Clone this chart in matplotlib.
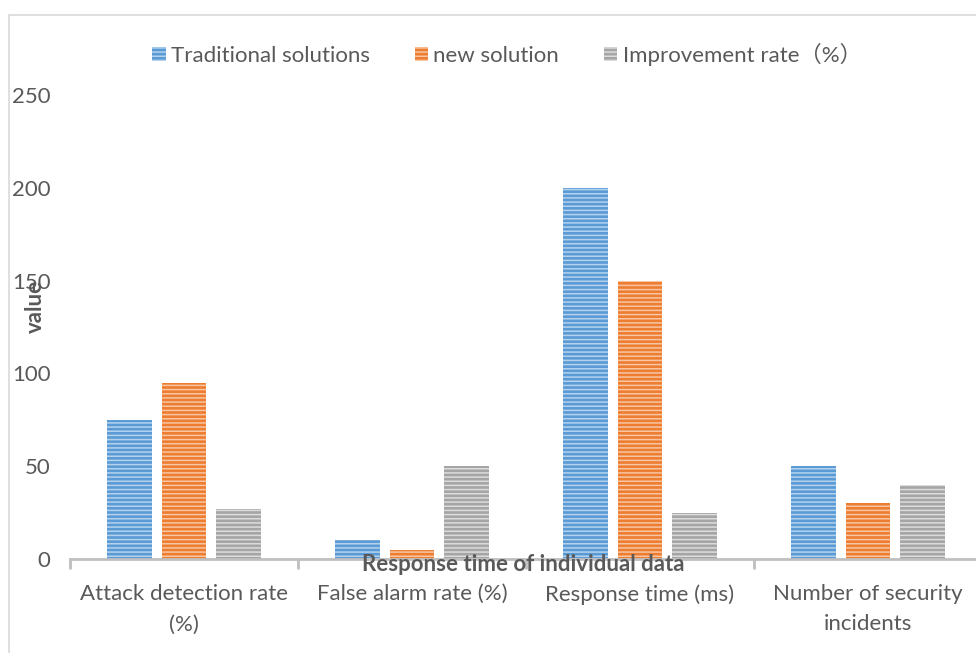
import matplotlib
matplotlib.use("Agg")
import matplotlib.pyplot as plt
import numpy as np
from matplotlib.patches import Rectangle

# datos
categorias = ["Attack detection rate\n(%)", "False alarm rate (%)",
              "Response time (ms)", "Number of security\nincidents"]
tradicional = [75, 10, 200, 50]
nueva = [95, 5, 150, 30]
mejora = [26.7, 50, 25, 40]
series = ["Traditional solutions", "new solution", "Improvement rate\uff08%\uff09"]

plt.rcParams['font.family'] = ['Lato', 'Noto Sans CJK SC', 'DejaVu Sans']
plt.rcParams['hatch.linewidth'] = 1.1

colores = ["#5B9BD5", "#ED7D31", "#A5A5A5"]
claros = ["#B4D2EE", "#F8C6A3", "#DCDCDC"]
gris_texto = "#595959"
tam = 16

fig = plt.figure(figsize=(9.76, 6.53), dpi=100)
# borde del area del grafico
fig.patches.append(Rectangle((8.5 / 976, -0.01), 1.0, 1 - 15.5 / 653 + 0.01,
                             transform=fig.transFigure, fill=False,
                             edgecolor="#D9D9D9", linewidth=1.2))

ax = fig.add_axes([70 / 976, 94 / 653, 912 / 976, 464 / 653])

x = np.arange(len(categorias))
ancho = 0.197
paso = 0.239
for k, (vals, nombre) in enumerate(zip([tradicional, nueva, mejora], series)):
    ax.bar(x + (k - 1) * paso, vals, width=ancho, color=colores[k],
           edgecolor=claros[k], linewidth=0, hatch="----", label=nombre)

ax.set_xlim(-0.5, len(categorias) - 0.5)
ax.set_ylim(0, 250)
ax.set_yticks([0, 50, 100, 150, 200, 250])
ax.set_xticks(x)
ax.set_xticklabels(categorias, linespacing=1.65)
ax.tick_params(axis="x", length=0, pad=18, labelsize=tam, labelcolor=gris_texto)
ax.tick_params(axis="y", length=0, pad=14, labelsize=tam, labelcolor=gris_texto)

# marcas entre categorias
ax.set_xticks(np.arange(len(categorias) + 1) - 0.5, minor=True)
ax.tick_params(axis="x", which="minor", length=7, width=2, color="#BFBFBF")

for lado in ["top", "right", "left"]:
    ax.spines[lado].set_visible(False)
ax.spines["bottom"].set_color("#BFBFBF")
ax.spines["bottom"].set_linewidth(2)

ax.set_ylabel("value", fontsize=tam, fontweight="bold", color=gris_texto)
ax.yaxis.set_label_coords(-0.026, 0.545)
ax.set_xlabel("Response time of individual data", fontsize=tam,
              fontweight="bold", color=gris_texto)
ax.xaxis.set_label_coords(0.497, 0.01)
# el titulo del eje x va encima de la linea del eje
ax.xaxis.set_zorder(4)
ax.yaxis.set_zorder(4)

ax.legend(loc="upper center", bbox_to_anchor=(0.479, 1.155), ncol=3,
          frameon=False, fontsize=tam, handlelength=0.6, handleheight=0.6,
          columnspacing=2.0, handletextpad=0.25, labelcolor=gris_texto)

fig.savefig("out.png", dpi=100)
